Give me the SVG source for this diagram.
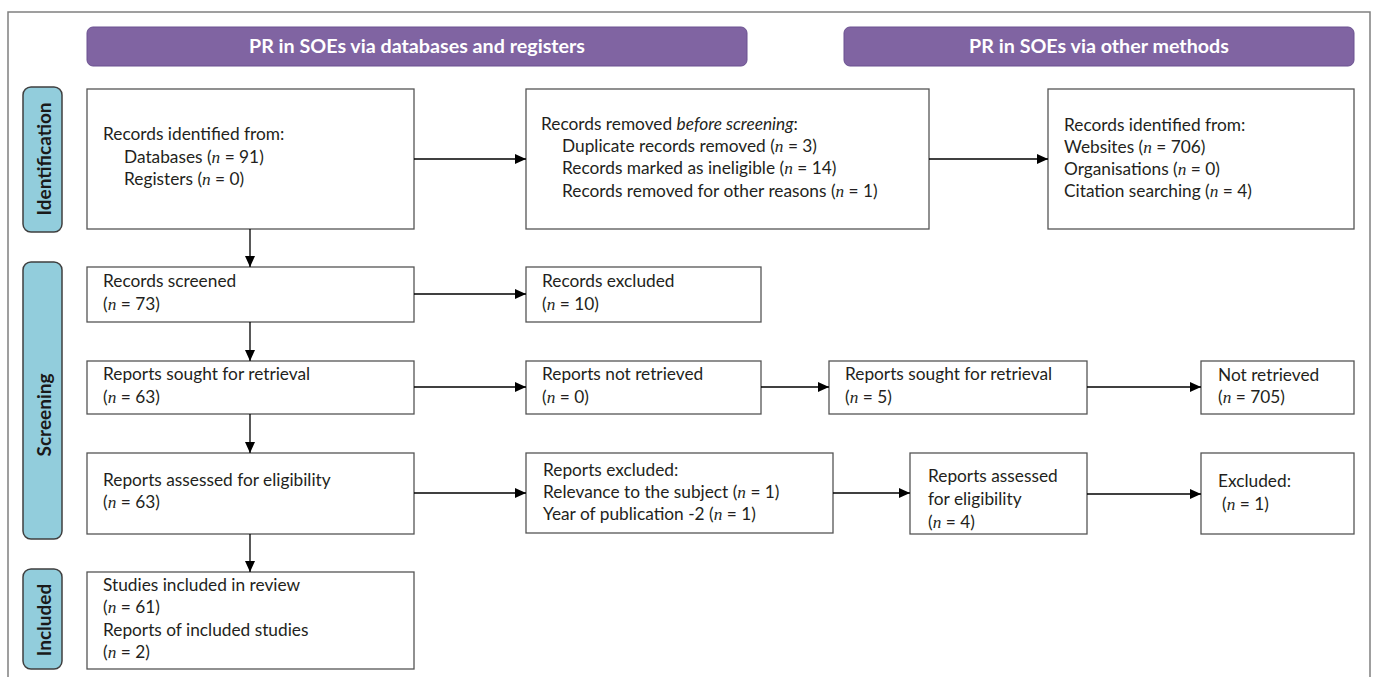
<svg xmlns="http://www.w3.org/2000/svg" width="1375" height="677" viewBox="0 0 1375 677">
<style>
.frame{fill:none;stroke:#808080;stroke-width:1.5}
.hdr{fill:#8064A2;stroke:#6a5190;stroke-width:1}
.hdrt{font-family:Lato,"Liberation Sans",sans-serif;font-weight:bold;font-size:19.7px;fill:#ffffff;text-anchor:middle}
.side{fill:#92CDDC;stroke:#3f3f3f;stroke-width:1.5}
.sidet{font-family:Lato,"Liberation Sans",sans-serif;font-weight:bold;font-size:19px;fill:#1a1a1a;text-anchor:middle;dominant-baseline:central}
.box{fill:#ffffff;stroke:#555555;stroke-width:1.3}
.t{font-family:Lato,"Liberation Sans",sans-serif;font-size:17.3px;fill:#231f20}
.n{font-family:"Liberation Serif",serif;font-style:italic}
.i{font-style:italic}
.conn line{stroke:#000000;stroke-width:1.3;marker-end:url(#ah)}
</style>
<defs>
<marker id="ah" markerUnits="userSpaceOnUse" markerWidth="12" markerHeight="10" refX="11" refY="5" orient="auto">
<path d="M0,0 L11,5 L0,10 z" fill="#000000"/>
</marker>
</defs>
<path class="frame" d="M8,677 L8,12 L1370,12 L1370,677"/>
<g id="hdr1"><rect class="hdr" x="87" y="27" width="660" height="39" rx="6"/><text class="hdrt" x="417" y="53">PR in SOEs via databases and registers</text></g>
<g id="hdr2"><rect class="hdr" x="844" y="27" width="510" height="39" rx="6"/><text class="hdrt" x="1099" y="53">PR in SOEs via other methods</text></g>
<g id="side-identification"><rect class="side" x="23" y="87" width="39" height="145" rx="8"/><text class="sidet" transform="rotate(-90 43 159)" x="43" y="159">Identification</text></g>
<g id="side-screening"><rect class="side" x="23" y="262" width="39" height="277" rx="8"/><text class="sidet" transform="rotate(-90 43 415)" x="43" y="415">Screening</text></g>
<g id="side-included"><rect class="side" x="23" y="569" width="39" height="100" rx="8"/><text class="sidet" transform="rotate(-90 43 620)" x="43" y="620">Included</text></g>
<g id="boxA"><rect class="box" x="87" y="89" width="327" height="140"/>
<text class="t" x="103" y="140">Records identified from:</text>
<text class="t" x="124" y="163">Databases (<tspan class="n">n</tspan> = 91)</text>
<text class="t" x="124" y="185">Registers (<tspan class="n">n</tspan> = 0)</text></g>
<g id="boxB"><rect class="box" x="526" y="89" width="403" height="140"/>
<text class="t" x="541" y="130">Records removed <tspan class="i">before screening</tspan>:</text>
<text class="t" x="562" y="152">Duplicate records removed (<tspan class="n">n</tspan> = 3)</text>
<text class="t" x="562" y="174">Records marked as ineligible (<tspan class="n">n</tspan> = 14)</text>
<text class="t" x="562" y="197">Records removed for other reasons (<tspan class="n">n</tspan> = 1)</text></g>
<g id="boxC"><rect class="box" x="1048" y="89" width="306" height="140"/>
<text class="t" x="1064" y="131">Records identified from:</text>
<text class="t" x="1064" y="153">Websites (<tspan class="n">n</tspan> = 706)</text>
<text class="t" x="1064" y="175">Organisations (<tspan class="n">n</tspan> = 0)</text>
<text class="t" x="1064" y="197">Citation searching (<tspan class="n">n</tspan> = 4)</text></g>
<g id="boxD"><rect class="box" x="87" y="267" width="327" height="55"/>
<text class="t" x="103" y="287">Records screened</text>
<text class="t" x="103" y="310">(<tspan class="n">n</tspan> = 73)</text></g>
<g id="boxE"><rect class="box" x="87" y="361" width="327" height="53"/>
<text class="t" x="103" y="380">Reports sought for retrieval</text>
<text class="t" x="103" y="403">(<tspan class="n">n</tspan> = 63)</text></g>
<g id="boxF"><rect class="box" x="87" y="453" width="327" height="81"/>
<text class="t" x="103" y="486">Reports assessed for eligibility</text>
<text class="t" x="103" y="508">(<tspan class="n">n</tspan> = 63)</text></g>
<g id="boxG"><rect class="box" x="87" y="572" width="327" height="97"/>
<text class="t" x="103" y="591">Studies included in review</text>
<text class="t" x="103" y="613">(<tspan class="n">n</tspan> = 61)</text>
<text class="t" x="103" y="636">Reports of included studies</text>
<text class="t" x="103" y="658">(<tspan class="n">n</tspan> = 2)</text></g>
<g id="boxH"><rect class="box" x="526" y="267" width="235" height="55"/>
<text class="t" x="542" y="287">Records excluded</text>
<text class="t" x="542" y="310">(<tspan class="n">n</tspan> = 10)</text></g>
<g id="boxI"><rect class="box" x="526" y="361" width="235" height="53"/>
<text class="t" x="542" y="380">Reports not retrieved</text>
<text class="t" x="542" y="403">(<tspan class="n">n</tspan> = 0)</text></g>
<g id="boxJ"><rect class="box" x="829" y="361" width="258" height="53"/>
<text class="t" x="845" y="380">Reports sought for retrieval</text>
<text class="t" x="845" y="403">(<tspan class="n">n</tspan> = 5)</text></g>
<g id="boxK"><rect class="box" x="1201" y="361" width="153" height="53"/>
<text class="t" x="1218" y="381">Not retrieved</text>
<text class="t" x="1218" y="403">(<tspan class="n">n</tspan> = 705)</text></g>
<g id="boxL"><rect class="box" x="526" y="453" width="307" height="80"/>
<text class="t" x="543" y="476">Reports excluded:</text>
<text class="t" x="543" y="498">Relevance to the subject (<tspan class="n">n</tspan> = 1)</text>
<text class="t" x="543" y="520">Year of publication -2 (<tspan class="n">n</tspan> = 1)</text></g>
<g id="boxM"><rect class="box" x="910" y="453" width="177" height="81"/>
<text class="t" x="928" y="482">Reports assessed</text>
<text class="t" x="928" y="505">for eligibility</text>
<text class="t" x="928" y="528">(<tspan class="n">n</tspan> = 4)</text></g>
<g id="boxN"><rect class="box" x="1201" y="453" width="153" height="81"/>
<text class="t" x="1218" y="487">Excluded:</text>
<text class="t" x="1222" y="510">(<tspan class="n">n</tspan> = 1)</text></g>
<g id="connectors" class="conn">
<line x1="414" y1="159" x2="526" y2="159"/>
<line x1="929" y1="159" x2="1048" y2="159"/>
<line x1="250" y1="229" x2="250" y2="267"/>
<line x1="250" y1="322" x2="250" y2="361"/>
<line x1="250" y1="414" x2="250" y2="453"/>
<line x1="250" y1="534" x2="250" y2="572"/>
<line x1="414" y1="294" x2="526" y2="294"/>
<line x1="414" y1="387" x2="526" y2="387"/>
<line x1="761" y1="387" x2="829" y2="387"/>
<line x1="1087" y1="387" x2="1201" y2="387"/>
<line x1="414" y1="493" x2="526" y2="493"/>
<line x1="833" y1="493" x2="910" y2="493"/>
<line x1="1087" y1="494" x2="1201" y2="494"/>
</g>
</svg>
